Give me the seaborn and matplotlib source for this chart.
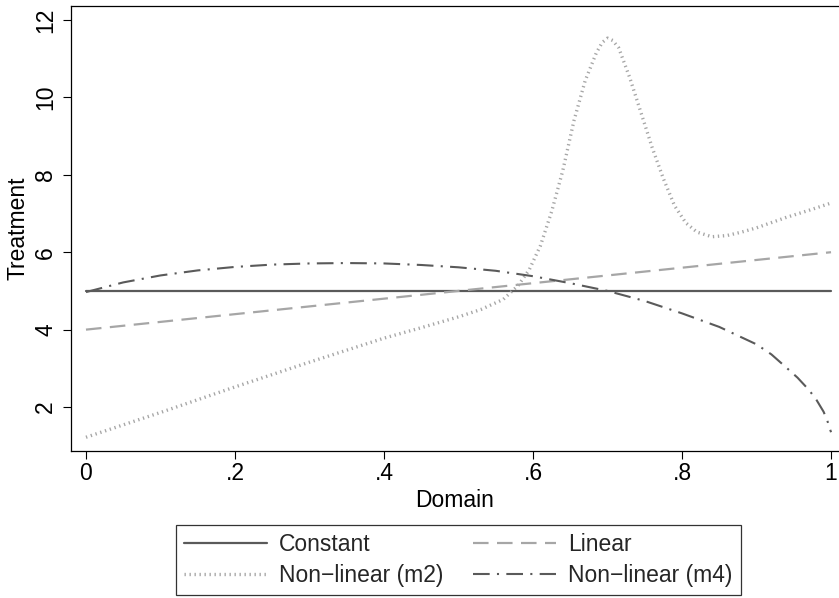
import matplotlib
matplotlib.use("Agg")
import matplotlib.pyplot as plt
import seaborn as sns

# values
domain_lin = [0.0, 1.0]
constant_y = [5.0, 5.0]
linear_y = [4.0, 6.0]

domain_m2 = [0.0, 0.1, 0.2, 0.3, 0.4, 0.45, 0.5, 0.53, 0.56, 0.58, 0.595,
             0.61, 0.625, 0.64, 0.655, 0.67, 0.685, 0.693, 0.7, 0.707, 0.715,
             0.73, 0.745, 0.76, 0.775, 0.79, 0.805, 0.82, 0.84, 0.86, 0.88,
             0.9, 0.94, 0.97, 1.0]
m2_y = [1.22, 1.86, 2.52, 3.16, 3.78, 4.05, 4.33, 4.52, 4.78, 5.14, 5.55,
        6.17, 7.05, 8.11, 9.4, 10.43, 11.15, 11.42, 11.53, 11.47, 11.28,
        10.5, 9.6, 8.7, 7.9, 7.2, 6.76, 6.52, 6.40, 6.43, 6.52,
        6.63, 6.9, 7.08, 7.27]

domain_m4 = [0.0, 0.05, 0.1, 0.15, 0.2, 0.25, 0.3, 0.35, 0.4, 0.45, 0.5,
             0.55, 0.6, 0.65, 0.7, 0.75, 0.8, 0.85, 0.9, 0.92, 0.94, 0.955,
             0.97, 0.98, 0.99, 0.995, 1.0]
m4_y = [4.97, 5.22, 5.40, 5.53, 5.62, 5.68, 5.71, 5.72, 5.71, 5.67, 5.61,
        5.52, 5.38, 5.20, 5.00, 4.74, 4.42, 4.07, 3.62, 3.36, 3.02, 2.76,
        2.45, 2.20, 1.88, 1.65, 1.35]

x_ticks = [0, 0.2, 0.4, 0.6, 0.8, 1.0]
x_ticklabels = ["0", ".2", ".4", ".6", ".8", "1"]
y_ticks = [2, 4, 6, 8, 10, 12]
y_ticklabels = ["2", "4", "6", "8", "10", "12"]

sns.set_style("ticks")
plt.rcParams["font.family"] = ["Liberation Sans", "DejaVu Sans"]
fs = 16.5

fig = plt.figure(figsize=(8.39, 5.98), dpi=100)
ax = fig.add_axes([71 / 839, 1 - 451 / 598, 1 - 71 / 839, (451 - 6) / 598])

dark = "#5a5a5a"
light = "#a6a6a6"

sns.lineplot(x=domain_lin, y=constant_y, ax=ax, color=dark, lw=1.6,
             label="Constant")
sns.lineplot(x=domain_m2, y=m2_y, ax=ax, color=light, lw=2.4,
             linestyle=(0, (0.4, 1.1)), label="Non\u2212linear (m2)")
sns.lineplot(x=domain_lin, y=linear_y, ax=ax, color=light, lw=1.6,
             linestyle=(0, (7, 3.8)), label="Linear")
sns.lineplot(x=domain_m4, y=m4_y, ax=ax, color=dark, lw=1.5,
             linestyle=(0, (8, 3.5, 1, 3.5)), label="Non\u2212linear (m4)")

ax.set_xlim(-0.0201, 1.0107)
ax.set_ylim(0.865, 12.36)
ax.set_xticks(x_ticks)
ax.set_xticklabels(x_ticklabels)
ax.set_yticks(y_ticks)
ax.set_yticklabels(y_ticklabels, rotation=90, va="center")
ax.tick_params(axis="both", direction="out", length=6, width=0.8,
               color="black", labelsize=fs, labelcolor="black")
ax.tick_params(axis="y", pad=4)
ax.tick_params(axis="x", pad=2)
ax.set_xlabel("Domain", fontsize=fs, labelpad=3, color="black")
ax.set_ylabel("Treatment", fontsize=fs, labelpad=3, color="black")

for side in ["left", "bottom", "top"]:
    ax.spines[side].set_visible(True)
    ax.spines[side].set_color("black")
    ax.spines[side].set_linewidth(0.9)
ax.spines["right"].set_visible(False)

handles, labels = ax.get_legend_handles_labels()
ax.get_legend().remove()
leg = fig.legend(handles, labels, loc="center", ncol=2,
                 bbox_to_anchor=(458.5 / 839, 1 - 560 / 598),
                 frameon=True, fancybox=False, edgecolor="black",
                 fontsize=fs, handlelength=3.6, handletextpad=0.55,
                 columnspacing=1.3, labelspacing=0.35, borderpad=0.35,
                 borderaxespad=0)
leg.get_frame().set_linewidth(0.9)

fig.savefig("out.png", dpi=100, facecolor="white")
